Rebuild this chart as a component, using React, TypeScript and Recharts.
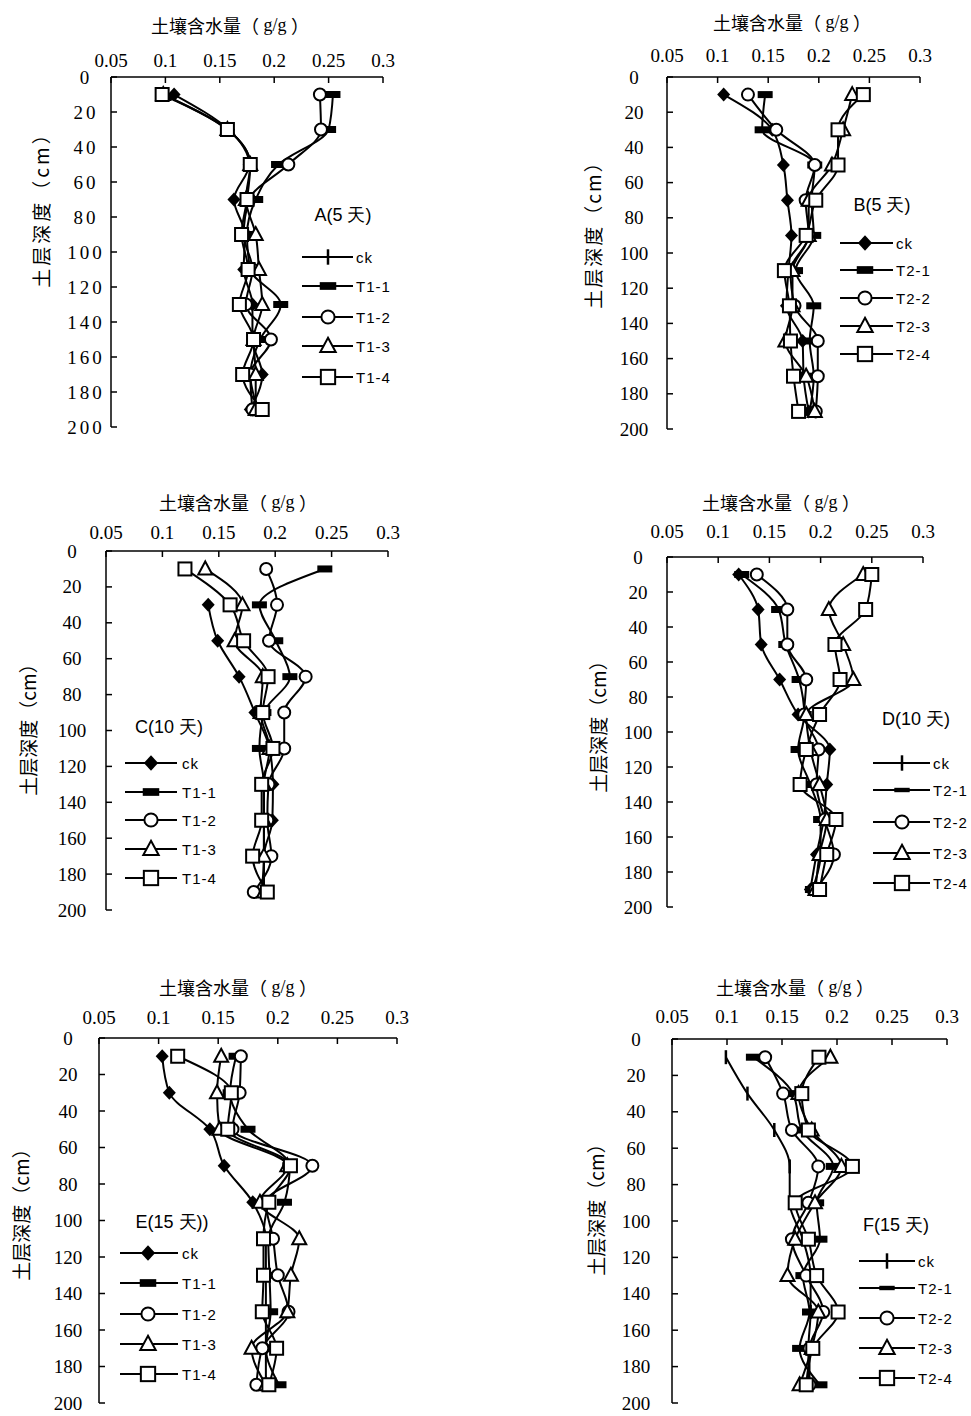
import React from 'react';
import { ScatterChart, Scatter, XAxis, YAxis, Legend } from 'recharts';

// ---------- data ----------
const depths = [10, 30, 50, 70, 90, 110, 130, 150, 170, 190];
const xTicks = [0.05, 0.1, 0.15, 0.2, 0.25, 0.3];
const xTickLabels = ['0.05', '0.1', '0.15', '0.2', '0.25', '0.3'];
const yTicks = [0, 20, 40, 60, 80, 100, 120, 140, 160, 180, 200];
const namesT1 = ['ck', 'T1-1', 'T1-2', 'T1-3', 'T1-4'];
const namesT2 = ['ck', 'T2-1', 'T2-2', 'T2-3', 'T2-4'];
const panelTitles = ['A(5 天)', 'B(5 天)', 'C(10 天)', 'D(10 天)', 'E(15 天))', 'F(15 天)'];
const xTitleMain = '土壤含水量（';
const xTitleUnit = ' g/g ';
const xTitleEnd = '）';
const yTitle = '土层深度（cm）';

// Panel A (5 days, T1)
const aCk = [0.108, 0.158, 0.177, 0.163, 0.173, 0.172, 0.18, 0.18, 0.189, 0.178];
const aT11 = [0.254, 0.25, 0.204, 0.183, 0.175, 0.178, 0.206, 0.187, 0.178, 0.185];
const aT12 = [0.242, 0.243, 0.213, 0.177, 0.172, 0.18, 0.174, 0.197, 0.178, 0.18];
const aT13 = [0.098, 0.157, 0.178, 0.174, 0.183, 0.186, 0.189, 0.181, 0.183, 0.183];
const aT14 = [0.097, 0.157, 0.178, 0.175, 0.17, 0.176, 0.168, 0.181, 0.171, 0.189];
// Panel B (5 days, T2)
const bCk = [0.106, 0.154, 0.165, 0.169, 0.173, 0.17, 0.168, 0.184, 0.185, 0.19];
const bT21 = [0.147, 0.144, 0.196, 0.193, 0.195, 0.177, 0.195, 0.191, 0.195, 0.191];
const bT22 = [0.13, 0.158, 0.196, 0.187, 0.19, 0.172, 0.176, 0.199, 0.199, 0.197];
const bT23 = [0.233, 0.224, 0.213, 0.19, 0.19, 0.174, 0.174, 0.167, 0.1875, 0.196];
const bT24 = [0.244, 0.219, 0.219, 0.197, 0.1875, 0.166, 0.171, 0.172, 0.175, 0.18];
// Panel C (10 days, T1)
const cCk = [null, 0.1406, 0.149, 0.168, 0.182, 0.195, 0.198, 0.1975, 0.19, 0.19];
const cT11 = [0.244, 0.186, 0.2005, 0.213, 0.19, 0.186, 0.19, 0.19, 0.19, 0.188];
const cT12 = [0.192, 0.2016, 0.1945, 0.227, 0.208, 0.208, 0.194, 0.193, 0.1966, 0.181];
const cT13 = [0.138, 0.171, 0.164, 0.189, 0.187, 0.195, 0.19, 0.19, 0.19, 0.19];
const cT14 = [0.12, 0.16, 0.172, 0.1937, 0.189, 0.198, 0.188, 0.188, 0.18, 0.193];
// Panel D (10 days, T2)
const dCk = [0.12, 0.139, 0.142, 0.16, 0.178, 0.209, 0.206, 0.203, 0.196, 0.19];
const dT21 = [0.123, 0.159, 0.166, 0.179, 0.184, 0.178, 0.19, 0.2, 0.2, 0.192];
const dT22 = [0.1377, 0.1675, 0.1675, 0.186, 0.184, 0.198, 0.196, 0.204, 0.213, 0.195];
const dT23 = [0.2416, 0.208, 0.222, 0.232, 0.186, 0.19, 0.199, 0.206, 0.199, 0.195];
const dT24 = [0.25, 0.244, 0.214, 0.219, 0.199, 0.186, 0.18, 0.215, 0.206, 0.199];
// Panel E (15 days, T1)
const eCk = [0.103, 0.109, 0.143, 0.155, 0.179, 0.19, 0.19, 0.19, 0.19, 0.19];
const eT11 = [0.165, 0.16, 0.175, 0.21, 0.2056, 0.192, 0.193, 0.194, 0.19, 0.201];
const eT12 = [0.169, 0.168, 0.162, 0.229, 0.19, 0.196, 0.2, 0.209, 0.187, 0.182];
const eT13 = [0.1525, 0.149, 0.151, 0.208, 0.185, 0.218, 0.211, 0.208, 0.178, 0.19];
const eT14 = [0.116, 0.161, 0.158, 0.2106, 0.1925, 0.188, 0.188, 0.187, 0.199, 0.1925];
// Panel F (15 days, T2)
const fCk = [0.099, 0.1186, 0.143, 0.157, 0.157, 0.169, 0.176, 0.176, 0.174, 0.174];
const fT21 = [0.124, 0.16, 0.168, 0.1966, 0.1815, 0.1845, 0.169, 0.175, 0.166, 0.1845];
const fT22 = [0.1347, 0.151, 0.159, 0.183, 0.174, 0.159, 0.172, 0.1875, 0.175, 0.175];
const fT23 = [0.194, 0.165, 0.177, 0.204, 0.18, 0.162, 0.155, 0.183, 0.177, 0.166];
const fT24 = [0.1836, 0.168, 0.174, 0.214, 0.162, 0.174, 0.1815, 0.201, 0.178, 0.172];

// ---------- layout ----------
const W = 971;
const H = 1416;
const SERIF = '"Liberation Serif", "Times New Roman", serif';
const SANS = '"Liberation Sans", Arial, sans-serif';
const CJK = '"Noto Sans CJK SC", "Noto Sans", sans-serif';

type Kind = 'diamond' | 'rect' | 'circle' | 'triangle' | 'square' | 'plus' | 'dash';

const panels = [
  {
    values: [aCk, aT11, aT12, aT13, aT14], names: namesT1, title: panelTitles[0],
    x0: 111, x1: 383, y0: 77, y1: 427, tx: 230, ty: 25, xTickDy: -17, yTickDx: -25, yTickLS: 3,
    ylx: 40, yly: 205, ylLS: 3, lbx: 343, lby: 215,
    lg: { lx0: 302, lx1: 353, mx: 328, tx: 356, rows: [257, 286, 317, 346, 377] },
    icons: ['plus', 'rect', 'circle', 'triangle', 'square'] as Kind[],
    kinds: ['diamond', 'rect', 'circle', 'triangle', 'square'] as Kind[],
  },
  {
    values: [bCk, bT21, bT22, bT23, bT24], names: namesT2, title: panelTitles[1],
    x0: 667, x1: 920, y0: 77, y1: 429, tx: 792, ty: 22, xTickDy: -22, yTickDx: -33, yTickLS: 0,
    ylx: 592, yly: 230, ylLS: 2, lbx: 882, lby: 205,
    lg: { lx0: 840, lx1: 893, mx: 865, tx: 896, rows: [243, 270, 298, 326, 354] },
    icons: ['diamond', 'rect', 'circle', 'triangle', 'square'] as Kind[],
    kinds: ['diamond', 'rect', 'circle', 'triangle', 'square'] as Kind[],
  },
  {
    values: [cCk, cT11, cT12, cT13, cT14], names: namesT1, title: panelTitles[2],
    x0: 106, x1: 388, y0: 551, y1: 910, tx: 238, ty: 502, xTickDy: -19, yTickDx: -34, yTickLS: 0,
    ylx: 27, yly: 725, ylLS: 0, lbx: 169, lby: 727,
    lg: { lx0: 125, lx1: 177, mx: 151, tx: 182, rows: [763, 792, 820, 849, 878] },
    icons: ['diamond', 'rect', 'circle', 'triangle', 'square'] as Kind[],
    kinds: ['diamond', 'rect', 'circle', 'triangle', 'square'] as Kind[],
  },
  {
    values: [dCk, dT21, dT22, dT23, dT24], names: namesT2, title: panelTitles[3],
    x0: 667, x1: 923, y0: 557, y1: 907, tx: 781, ty: 502, xTickDy: -26, yTickDx: -29, yTickLS: 0,
    ylx: 597, yly: 722, ylLS: 0, lbx: 916, lby: 719,
    lg: { lx0: 873, lx1: 930, mx: 902, tx: 933, rows: [763, 790, 822, 853, 883] },
    icons: ['plus', 'dash', 'circle', 'triangle', 'square'] as Kind[],
    kinds: ['diamond', 'rect', 'circle', 'triangle', 'square'] as Kind[],
  },
  {
    values: [eCk, eT11, eT12, eT13, eT14], names: namesT1, title: panelTitles[4],
    x0: 99, x1: 397, y0: 1038, y1: 1403, tx: 238, ty: 987, xTickDy: -21, yTickDx: -31, yTickLS: 0,
    ylx: 20, yly: 1210, ylLS: 0, lbx: 172, lby: 1222,
    lg: { lx0: 120, lx1: 178, mx: 148, tx: 182, rows: [1253, 1283, 1314, 1344, 1374] },
    icons: ['diamond', 'rect', 'circle', 'triangle', 'square'] as Kind[],
    kinds: ['diamond', 'rect', 'circle', 'triangle', 'square'] as Kind[],
  },
  {
    values: [fCk, fT21, fT22, fT23, fT24], names: namesT2, title: panelTitles[5],
    x0: 672, x1: 947, y0: 1039, y1: 1403, tx: 795, ty: 987, xTickDy: -23, yTickDx: -36, yTickLS: 0,
    ylx: 595, yly: 1205, ylLS: 0, lbx: 896, lby: 1225,
    lg: { lx0: 859, lx1: 915, mx: 887, tx: 918, rows: [1261, 1288, 1318, 1348, 1378] },
    icons: ['plus', 'dash', 'circle', 'triangle', 'square'] as Kind[],
    kinds: ['plus', 'rect', 'circle', 'triangle', 'square'] as Kind[],
  },
];

function Mark({ kind, cx, cy, s = 1 }: { kind: Kind; cx: number; cy: number; s?: number }) {
  switch (kind) {
    case 'diamond':
      return <polygon points={`${cx},${cy - 7 * s} ${cx + 6.5 * s},${cy} ${cx},${cy + 7 * s} ${cx - 6.5 * s},${cy}`} fill="#000" />;
    case 'rect':
      return <rect x={cx - 7.5 * s} y={cy - 3.5 * s} width={15 * s} height={7 * s} fill="#000" />;
    case 'circle':
      return <circle cx={cx} cy={cy} r={6 * s} fill="#fff" stroke="#000" strokeWidth={2} />;
    case 'triangle':
      return <polygon points={`${cx},${cy - 7.5 * s} ${cx + 7 * s},${cy + 5.5 * s} ${cx - 7 * s},${cy + 5.5 * s}`} fill="#fff" stroke="#000" strokeWidth={2} />;
    case 'square':
      return <rect x={cx - 6.5 * s} y={cy - 6.5 * s} width={13 * s} height={13 * s} fill="#fff" stroke="#000" strokeWidth={2} />;
    case 'plus':
      return <line x1={cx} y1={cy - 7 * s} x2={cx} y2={cy + 7 * s} stroke="#000" strokeWidth={2.5} />;
    case 'dash':
      return <rect x={cx - 7 * s} y={cy - 2 * s} width={14 * s} height={4 * s} fill="#000" />;
    default:
      return null;
  }
}

const toPoints = (vals: (number | null)[]) =>
  depths.map((d, i) => ({ x: vals[i], y: d })).filter((p) => p.x != null);

function XTick(props: any) {
  const { x, y, payload, dy } = props;
  const i = xTicks.indexOf(payload.value);
  return (
    <g>
      <line x1={x} y1={y} x2={x} y2={y + 6} stroke="#000" strokeWidth={1.5} />
      <text x={x} y={y + dy} textAnchor="middle" dominantBaseline="central" fontFamily={SERIF} fontSize={19} fill="#000">
        {i >= 0 ? xTickLabels[i] : String(payload.value)}
      </text>
    </g>
  );
}

function YTick(props: any) {
  const { x, y, payload, dx, ls } = props;
  return (
    <g>
      <line x1={x} y1={y} x2={x + 6} y2={y} stroke="#000" strokeWidth={1.5} />
      <text x={x + dx} y={y} textAnchor="middle" dominantBaseline="central" fontFamily={SERIF} fontSize={19} letterSpacing={ls} fill="#000">
        {String(payload.value)}
      </text>
    </g>
  );
}

function XTitle({ px, py }: any) {
  return (
    <text x={px} y={py} textAnchor="middle" dominantBaseline="central" fontSize={18} fill="#000">
      <tspan fontFamily={CJK}>{xTitleMain}</tspan>
      <tspan fontFamily={SERIF}>{xTitleUnit}</tspan>
      <tspan fontFamily={CJK}>{xTitleEnd}</tspan>
    </text>
  );
}

function YTitle({ px, py, ls }: any) {
  return (
    <text
      x={px}
      y={py}
      transform={`rotate(-90 ${px} ${py})`}
      textAnchor="middle"
      dominantBaseline="central"
      fontFamily={CJK}
      fontSize={19}
      letterSpacing={ls}
      fill="#000"
    >
      {yTitle}
    </text>
  );
}

function PanelLegend({ p }: { p: (typeof panels)[number] }) {
  return (
    <svg width={W} height={H} style={{ position: 'absolute', left: 0, top: 0, overflow: 'visible' }}>
      <text x={p.lbx} y={p.lby} textAnchor="middle" dominantBaseline="central" fontFamily={SANS} fontSize={18} fill="#000">
        {p.title}
      </text>
      {p.names.map((n, i) => (
        <g key={n}>
          <line x1={p.lg.lx0} y1={p.lg.rows[i]} x2={p.lg.lx1} y2={p.lg.rows[i]} stroke="#000" strokeWidth={2} />
          <Mark kind={p.icons[i]} cx={p.lg.mx} cy={p.lg.rows[i]} s={1.1} />
          <text x={p.lg.tx} y={p.lg.rows[i]} dominantBaseline="central" fontFamily={SANS} fontSize={15} letterSpacing={1} fill="#000">
            {n}
          </text>
        </g>
      ))}
    </svg>
  );
}

function Panel({ p }: { p: (typeof panels)[number] }) {
  const margin = { top: p.y0 - 30, left: p.x0 - 40, right: W - p.x1, bottom: H - p.y1 };
  return (
    <div style={{ position: 'absolute', left: 0, top: 0, width: W, height: H }}>
      <ScatterChart width={W} height={H} margin={margin}>
        <XAxis
          type="number"
          dataKey="x"
          orientation="top"
          domain={[0.05, 0.3]}
          ticks={xTicks}
          interval={0}
          height={30}
          tickSize={0}
          tickMargin={0}
          tickLine={false}
          axisLine={{ stroke: '#000', strokeWidth: 1.5 }}
          tick={<XTick dy={p.xTickDy} />}
          label={<XTitle px={p.tx} py={p.ty} />}
        />
        <YAxis
          type="number"
          dataKey="y"
          reversed
          domain={[0, 200]}
          ticks={yTicks}
          interval={0}
          width={40}
          tickSize={0}
          tickMargin={0}
          tickLine={false}
          axisLine={{ stroke: '#000', strokeWidth: 1.5 }}
          tick={<YTick dx={p.yTickDx} ls={p.yTickLS} />}
          label={<YTitle px={p.ylx} py={p.yly} ls={p.ylLS} />}
        />
        <Legend
          layout="vertical"
          align="center"
          verticalAlign="middle"
          wrapperStyle={{ position: 'absolute', left: 0, top: 0, width: W, height: H, pointerEvents: 'none' }}
          content={() => <PanelLegend p={p} />}
        />
        {p.values.map((vals, si) => (
          <Scatter
            key={p.names[si]}
            name={p.names[si]}
            data={toPoints(vals)}
            fill="#000"
            line={{ stroke: '#000', strokeWidth: 2 }}
            lineType="joint"
            lineJointType="monotoneY"
            isAnimationActive={false}
            shape={(sp: any) => <Mark kind={p.kinds[si]} cx={sp.cx} cy={sp.cy} />}
          />
        ))}
      </ScatterChart>
    </div>
  );
}

export default function App() {
  return (
    <div style={{ position: 'absolute', left: 0, top: 0, width: W, height: H, background: '#fff', overflow: 'hidden' }}>
      {panels.map((p, i) => (
        <Panel key={i} p={p} />
      ))}
    </div>
  );
}
